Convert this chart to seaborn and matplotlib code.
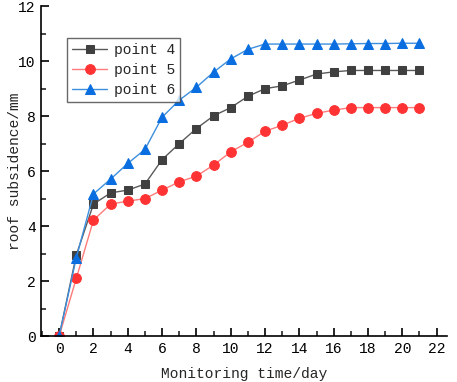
import pandas as pd
import seaborn as sns
import matplotlib.pyplot as plt
from matplotlib.ticker import MultipleLocator

# === Data ===
days = list(range(22))
point4 = [0, 2.95, 4.80, 5.21, 5.31, 5.53, 6.42, 7.00, 7.55, 8.01, 8.31, 8.72,
          9.00, 9.10, 9.31, 9.53, 9.61, 9.66, 9.66, 9.66, 9.66, 9.66]
point5 = [0, 2.10, 4.22, 4.80, 4.91, 5.00, 5.31, 5.61, 5.82, 6.22, 6.70, 7.05,
          7.45, 7.67, 7.92, 8.10, 8.22, 8.31, 8.31, 8.31, 8.31, 8.31]
point6 = [0, 2.85, 5.17, 5.71, 6.28, 6.79, 7.96, 8.58, 9.05, 9.60, 10.08, 10.43,
          10.62, 10.62, 10.62, 10.62, 10.62, 10.63, 10.64, 10.64, 10.65, 10.65]

df = pd.DataFrame({
    "day": days * 3,
    "value": point4 + point5 + point6,
    "series": ["point 4"] * 22 + ["point 5"] * 22 + ["point 6"] * 22,
})

# === Style ===
sns.set_style("ticks")
plt.rcParams["font.family"] = ["Liberation Mono", "DejaVu Sans"]

fig = plt.figure(figsize=(4.57, 3.82), dpi=100)
ax = fig.add_axes([0.090, 0.12, 0.888, 0.864])

styles = {
    "point 4": dict(line="#5a5a5a", face="#404040", marker="s", ms=6),
    "point 5": dict(line="#ff7b7b", face="#ff3333", marker="o", ms=7),
    "point 6": dict(line="#3d8fdd", face="#0a6ee0", marker="^", ms=7.5),
}
for name, st in styles.items():
    sub = df[df["series"] == name]
    sns.lineplot(data=sub, x="day", y="value", ax=ax, label=name,
                 color=st["line"], lw=1.0, marker=st["marker"], ms=st["ms"],
                 markerfacecolor=st["face"], markeredgecolor=st["face"])

ax.set_xlim(-1.05, 22.6)
ax.set_ylim(0, 12)
ax.xaxis.set_major_locator(MultipleLocator(2))
ax.xaxis.set_minor_locator(MultipleLocator(1))
ax.yaxis.set_major_locator(MultipleLocator(2))
ax.yaxis.set_minor_locator(MultipleLocator(1))
ax.tick_params(which="major", direction="in", length=6, width=1.2, labelsize=10.5,
               colors="black", pad=4)
ax.tick_params(which="minor", direction="in", length=3.5, width=1.2)
for s in ["top", "right"]:
    ax.spines[s].set_visible(False)
for s in ["left", "bottom"]:
    ax.spines[s].set_linewidth(1.2)
    ax.spines[s].set_color("black")

ax.set_xlabel("Monitoring time/day", fontsize=10.5, labelpad=8)
ax.set_ylabel("roof subsidence/mm", fontsize=10.5, labelpad=-3)

leg = ax.legend(loc="upper left", bbox_to_anchor=(0.064, 0.903), fontsize=10.5,
                frameon=True, fancybox=False, edgecolor="#444444",
                handlelength=2.4, borderpad=0.35, labelspacing=0.4,
                handletextpad=0.45, borderaxespad=0)
leg.get_frame().set_linewidth(1.0)

fig.savefig("out.png", dpi=100)
